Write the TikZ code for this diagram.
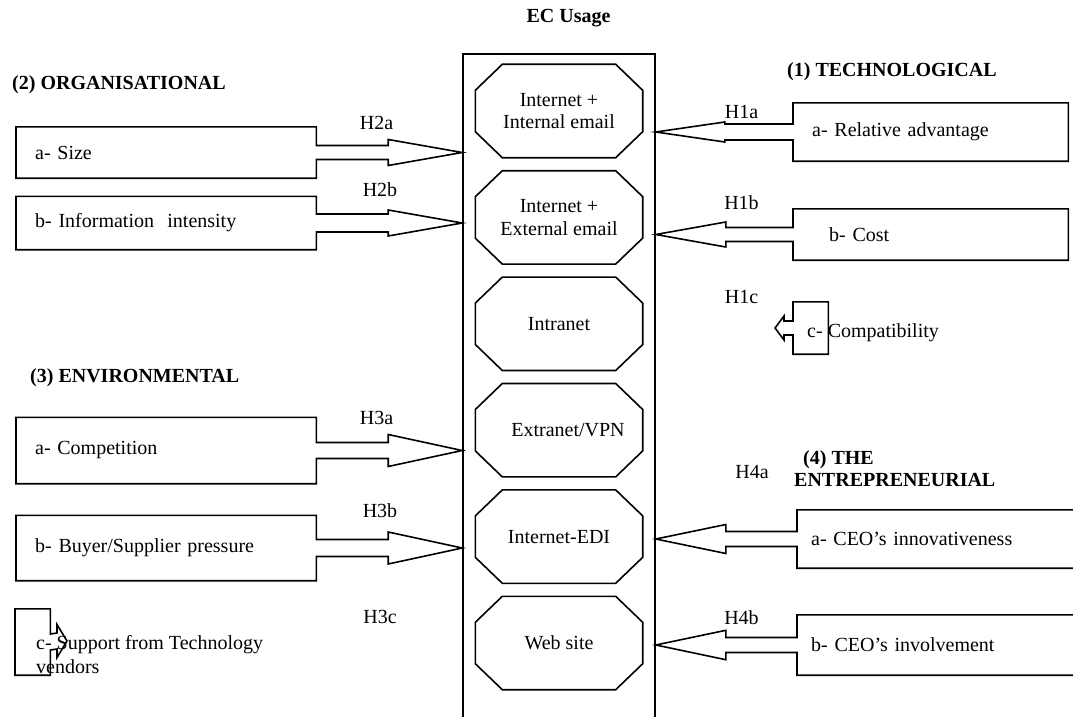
\documentclass[tikz,border=0pt]{standalone}
\usepackage{fontspec}
\setmainfont{Liberation Serif}
\usepackage{tikz}
\usetikzlibrary{positioning,calc}
\newcommand{\ftxt}{\fontsize{20}{23}\selectfont}
% block arrow from a factor box: #1 box, #2 tip, #3 head length, #4 shaft half, #5 head half
\newcommand{\pushR}[5]{%
  \draw[push] (#1.north west) -- (#1.north east) -- ($(#1.east)+(0,-#4)$)
    -- ($(#2)+(-#3,-#4)$) -- ($(#2)+(-#3,-#5)$) -- (#2) -- ($(#2)+(-#3,#5)$)
    -- ($(#2)+(-#3,#4)$) -- ($(#1.east)+(0,#4)$) -- (#1.south east) -- (#1.south west) -- cycle;}
\newcommand{\pushL}[5]{%
  \draw[push] (#1.north east) -- (#1.north west) -- ($(#1.west)+(0,-#4)$)
    -- ($(#2)+(#3,-#4)$) -- ($(#2)+(#3,-#5)$) -- (#2) -- ($(#2)+(#3,#5)$)
    -- ($(#2)+(#3,#4)$) -- ($(#1.west)+(0,#4)$) -- (#1.south west) -- (#1.south east) -- cycle;}
\tikzset{
  fac/.style={rectangle, anchor=west, align=left, inner xsep=19pt, inner ysep=0pt,
              font=\ftxt},
  use/.style={rectangle, minimum width=167pt, minimum height=93pt, inner sep=0pt,
              align=center, font=\fontsize{20}{22.5}\selectfont},
  push/.style={draw, line width=1.6pt, line join=miter},
  hyp/.style={font=\ftxt, inner sep=0pt},
  head/.style={font=\fontsize{20}{22}\selectfont\bfseries, inner sep=0pt, align=left},
}

\begin{document}
\begin{tikzpicture}[x=1pt, y=-1pt]
  \useasboundingbox (0,0) rectangle (1073,717);
  \clip (0,0) rectangle (1073,717);
  % EC usage column
  \node[head] (ec) at (568.5,18) {EC Usage};
  \node[draw, line width=1.6pt, minimum width=192pt, minimum height=720pt,
        anchor=north, inner sep=0pt] (col) at (559,53) {};
  \node[use] (u1) at (559,111) {Internet +\\Internal email};
  \node[use, below=13pt of u1] (u2) {Internet +\\External email};
  \node[use, below=13pt of u2] (u3) {Intranet};
  \node[use, below=13pt of u3] (u4) {\hspace*{18pt}Extranet/VPN};
  \node[use, below=13pt of u4] (u5) {Internet-EDI};
  \node[use, below=13pt of u5] (u6) {Web site};
  \foreach \u in {u1,u2,u3,u4,u5,u6}
    \draw[push] ($(\u.north west)+(27,0)$) -- ($(\u.north east)+(-27,0)$)
      -- ($(\u.north east)+(0,26)$) -- ($(\u.south east)+(0,-26)$)
      -- ($(\u.south east)+(-27,0)$) -- ($(\u.south west)+(27,0)$)
      -- ($(\u.south west)+(0,-26)$) -- ($(\u.north west)+(0,26)$) -- cycle;
  % factor groups
  \node[head, anchor=west] (org) at (12,85) {(2) ORGANISATIONAL};
  \node[head, anchor=west] (env) at (30,378) {(3) ENVIRONMENTAL};
  \node[head, anchor=west] (tech) at (787,72) {(1) TECHNOLOGICAL};
  \node[head, anchor=west] (entre) at (794,469) {\hspace*{9pt}(4) THE\\ENTREPRENEURIAL};
  \node[fac, text width=262pt, minimum height=51pt] (size) at (16,152.5) {a- Size};
  \node[fac, text width=262pt, minimum height=53pt] (info) at (16,223) {b- Information\ \ intensity};
  \node[fac, text width=262pt, minimum height=66pt] (comp) at (16,450.5) {a- Competition};
  \node[fac, text width=262pt, minimum height=65pt] (buyer) at (16,548) {b- Buyer/Supplier pressure};
  \node[fac, inner xsep=0pt, minimum width=35pt, minimum height=66pt] (support) at (15,642) {};
  \node[fac, text width=237pt, minimum height=58pt] (rel) at (793,132) {a- Relative advantage};
  \node[fac, text width=237pt, minimum height=51pt] (cost) at (793,234.5) {\hspace*{17pt}b- Cost};
  \node[fac, inner xsep=0pt, minimum width=35pt, minimum height=52pt] (compat) at (793,328) {};
  \node[fac, inner xsep=14pt, text width=300pt, minimum height=58pt] (ceoa) at (797,539) {a- CEO’s innovativeness};
  \node[fac, inner xsep=14pt, text width=300pt, minimum height=60pt] (ceob) at (797,645) {b- CEO’s involvement};
  % arrow tips
  \coordinate (size-in)  at (col.west |- size.east);
  \coordinate (info-in)  at (col.west |- info.east);
  \coordinate (comp-in)  at (col.west |- comp.east);
  \coordinate (buyer-in) at (col.west |- buyer.east);
  \coordinate (support-in) at (67,641);
  \coordinate (rel-in)   at (col.east |- rel.west);
  \coordinate (cost-in)  at (col.east |- cost.west);
  \coordinate (compat-in) at (775,328);
  \coordinate (ceoa-in)  at (col.east |- ceoa.west);
  \coordinate (ceob-in)  at (col.east |- ceob.west);
  \pushR{size}{size-in}{74}{7}{13}
  \pushR{info}{info-in}{74}{9}{13}
  \pushR{comp}{comp-in}{74}{8}{16}
  \pushR{buyer}{buyer-in}{74}{8.5}{16}
  \pushR{support}{support-in}{10}{8}{16.5}
  \pushL{rel}{rel-in}{69}{8}{10}
  \pushL{cost}{cost-in}{70}{7}{12.5}
  \pushL{compat}{compat-in}{9}{7}{12}
  \pushL{ceoa}{ceoa-in}{70}{7.5}{14.5}
  \pushL{ceob}{ceob-in}{70}{7.5}{14.7}
  \node[hyp, anchor=west, align=left, font=\fontsize{20}{24}\selectfont] (support-t) at (36,655)
    {c- Support from Technology\\vendors};
  \node[hyp, anchor=west] (compat-t) at (807,333) {c- Compatibility};
  % hypotheses
  \node[hyp] (h2a) at (376.5,123) {H2a};
  \node[hyp] (h2b) at (380,190) {H2b};
  \node[hyp] (h3a) at (376.5,418) {H3a};
  \node[hyp] (h3b) at (380,511) {H3b};
  \node[hyp] (h3c) at (380,617) {H3c};
  \node[hyp] (h1a) at (741.5,112) {H1a};
  \node[hyp] (h1b) at (741.5,203) {H1b};
  \node[hyp] (h1c) at (741.5,297) {H1c};
  \node[hyp] (h4a) at (752,472) {H4a};
  \node[hyp] (h4b) at (741.5,618) {H4b};
\end{tikzpicture}
\end{document}
